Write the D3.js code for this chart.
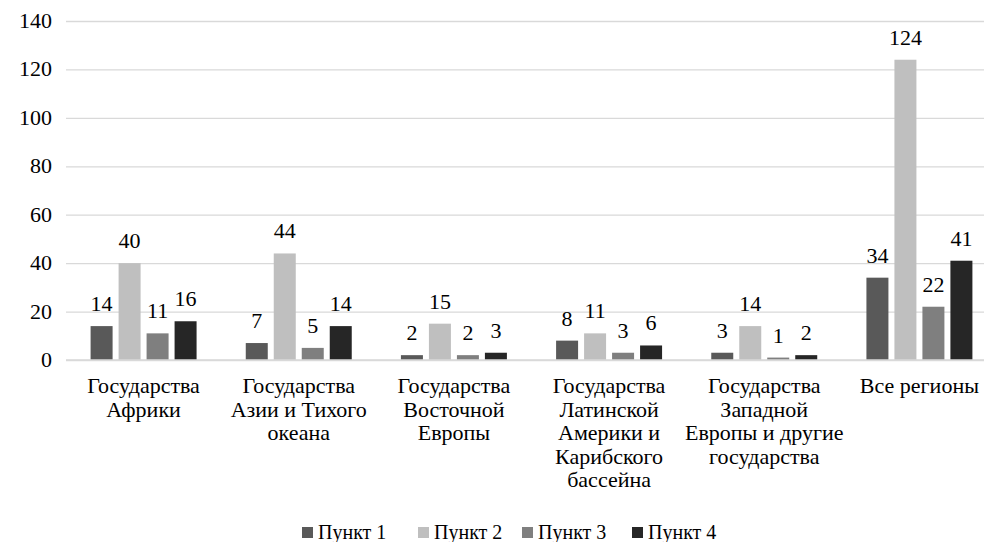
<!DOCTYPE html>
<html><head><meta charset="utf-8">
<script src="https://cdn.jsdelivr.net/npm/d3@7"></script>
<style>html,body{margin:0;padding:0;background:#fff;} svg{display:block;} svg text{font-family:"Liberation Serif","Times New Roman",Tinos,serif;}</style>
</head><body>
<svg id="chart" width="984" height="542"></svg>
<script>
const categories = [
  ["Государства", "Африки"],
  ["Государства", "Азии и Тихого", "океана"],
  ["Государства", "Восточной", "Европы"],
  ["Государства", "Латинской", "Америки и", "Карибского", "бассейна"],
  ["Государства", "Западной", "Европы и другие", "государства"],
  ["Все регионы"]
];
const seriesNames = ["Пункт 1", "Пункт 2", "Пункт 3", "Пункт 4"];
const punkt1 = [14, 7, 2, 8, 3, 34];
const punkt2 = [40, 44, 15, 11, 14, 124];
const punkt3 = [11, 5, 2, 3, 1, 22];
const punkt4 = [16, 14, 3, 6, 2, 41];
const yTicks = [0, 20, 40, 60, 80, 100, 120, 140];
const colors = ["#595959", "#bfbfbf", "#7f7f7f", "#262626"];

const seriesValues = [punkt1, punkt2, punkt3, punkt4];
const FONT = '"Liberation Serif", "Times New Roman", Tinos, serif';
const svg = d3.select("#chart");

const x0 = d3.scaleBand().domain(d3.range(categories.length))
  .range([66, 997]).paddingInner(0.317).paddingOuter(0.1585);
const x1 = d3.scaleBand().domain(d3.range(seriesNames.length))
  .range([0, x0.bandwidth()]).paddingInner(0.2143);
const y = d3.scaleLinear().domain([0, 140]).range([360, 21]);

// gridlines (axis used for tick lines only)
const yAxis = d3.axisLeft(y).tickValues(yTicks).tickSize(-(997 - 66)).tickFormat(() => "");
const gy = svg.append("g").attr("transform", "translate(66,0)").call(yAxis);
gy.select(".domain").remove();
gy.selectAll(".tick text").remove();
gy.selectAll(".tick line").attr("stroke", "#d9d9d9").attr("stroke-width", 1.3);

// bars
const bars = svg.append("g");
categories.forEach((c, ci) => {
  seriesValues.forEach((vals, si) => {
    const v = vals[ci];
    bars.append("rect")
      .attr("x", x0(ci) + x1(si)).attr("width", x1.bandwidth())
      .attr("y", y(v)).attr("height", y(0) - y(v))
      .attr("fill", colors[si]);
  });
});

// baseline
svg.append("line").attr("x1", 66).attr("x2", 997).attr("y1", y(0)).attr("y2", y(0))
  .attr("stroke", "#d9d9d9").attr("stroke-width", 1.3);

// all text in one untransformed layer, positioned by measured width
const txt = svg.append("g");
function addText(str, x, yy, size, mode) {
  const t = txt.append("text")
    .attr("x", x).attr("y", yy)
    .style("font-family", FONT).style("font-size", size + "px")
    .attr("fill", "#000").text(str);
  const w = t.node().getComputedTextLength();
  if (mode === "middle") t.attr("x", x - w / 2);
  else if (mode === "end") t.attr("x", x - w);
  return t;
}

// y tick labels
yTicks.forEach(t => addText(t, 52, y(t) + 7, 22, "end"));

// data labels
categories.forEach((c, ci) => {
  seriesValues.forEach((vals, si) => {
    const v = vals[ci];
    addText(v, x0(ci) + x1(si) + x1.bandwidth() / 2, y(v) - 15, 22, "middle");
  });
});

// category labels
categories.forEach((lines, ci) => {
  const cx = x0(ci) + x0.bandwidth() / 2;
  lines.forEach((line, li) => addText(line, cx, y(0) + 33 + li * 23.6, 22, "middle"));
});

// legend
const legendX = [302, 418, 522, 632];
seriesNames.forEach((n, i) => {
  txt.append("rect").attr("x", legendX[i]).attr("y", 527).attr("width", 11).attr("height", 11).attr("fill", colors[i]);
  addText(n, legendX[i] + 16, 539, 20, "start");
});
</script>
</body></html>
